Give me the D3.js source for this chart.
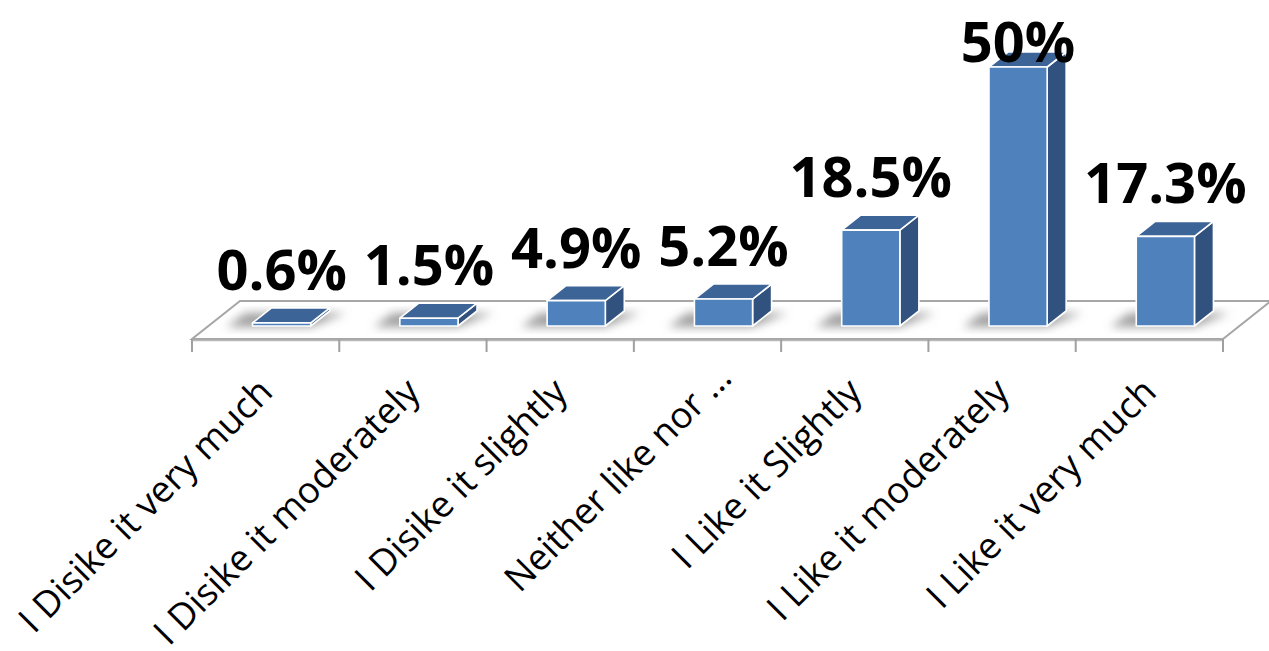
<!DOCTYPE html>
<html>
<head>
<meta charset="utf-8">
<script src="https://cdn.jsdelivr.net/npm/d3@7"></script>
<style>
  html, body { margin: 0; padding: 0; background: #fff; }
  svg { display: block; }
</style>
</head>
<body>
<script>
const categories = [
  "I Disike it very much",
  "I Disike it moderately",
  "I Disike it slightly",
  "Neither like nor \u2026",
  "I Like it Slightly",
  "I Like it moderately",
  "I Like it very much"
];
const values = [0.6, 1.5, 4.9, 5.2, 18.5, 50, 17.3];
const valueLabels = ["0.6%", "1.5%", "4.9%", "5.2%", "18.5%", "50%", "17.3%"];

const W = 1269, H = 651;
const svg = d3.select("body").append("svg").attr("width", W).attr("height", H);

const defs = svg.append("defs");
defs.append("filter").attr("id", "blur").attr("x", "-50%").attr("y", "-50%").attr("width", "200%").attr("height", "200%")
  .append("feGaussianBlur").attr("stdDeviation", 5);

// geometry
const frontY = 339, backY = 301, floorDX = 48;
const baseY = 326;           // bar base line inside floor
const depthDX = 19, depthDY = -15;
const barOffset = 16;        // perspective shift of bar inside band

const x = d3.scaleBand().domain(categories).range([192, 1223]).padding(0);
const y = d3.scaleLinear().domain([0, d3.max(values)]).range([baseY, 67]);
const barW = x.bandwidth() * 0.395;

// floor
const x0 = x.range()[0], x1 = x.range()[1];
svg.append("path")
  .attr("d", `M${x0},${frontY} L${x1},${frontY} L${x1 + floorDX},${backY} L${x0 + floorDX},${backY} Z`)
  .attr("fill", "#fff").attr("stroke", "#a6a6a6").attr("stroke-width", 2);
svg.append("line").attr("x1", x0).attr("x2", x1).attr("y1", frontY + 1.5).attr("y2", frontY + 1.5)
  .attr("stroke", "#b8b8b8").attr("stroke-width", 1.5);

// ticks at band edges
const tickPos = categories.map(c => x(c)).concat([x1]);
svg.append("g").selectAll("line").data(tickPos).join("line")
  .attr("x1", d => d).attr("x2", d => d)
  .attr("y1", frontY).attr("y2", frontY + 13)
  .attr("stroke", "#a0a0a0").attr("stroke-width", 2);

const data = categories.map((c, i) => ({ c, v: values[i], label: valueLabels[i] }));

// shadows
const gShadow = svg.append("g").attr("filter", "url(#blur)");
gShadow.selectAll("path").data(data).join("path")
  .attr("d", d => {
    const bx = x(d.c) + x.bandwidth() / 2 + barOffset - barW / 2;
    const l = bx - 26, r = bx + barW + depthDX + 16;
    return `M${l},${baseY + 1} L${bx + barW},${baseY + 1} L${r},${baseY + depthDY + 2} L${l + depthDX},${baseY + depthDY + 2} Z`;
  })
  .attr("fill", "#808080").attr("opacity", 0.75);

// bars
const gBars = svg.append("g");
data.forEach(d => {
  const bx = x(d.c) + x.bandwidth() / 2 + barOffset - barW / 2;
  const top = y(d.v);
  const g = gBars.append("g").attr("stroke", "#fff").attr("stroke-width", 1.6).attr("stroke-linejoin", "round");
  g.append("path")
    .attr("d", `M${bx + barW},${top} L${bx + barW + depthDX},${top + depthDY} L${bx + barW + depthDX},${baseY + depthDY} L${bx + barW},${baseY} Z`)
    .attr("fill", "#31527f");
  g.append("path")
    .attr("d", `M${bx},${top} L${bx + depthDX},${top + depthDY} L${bx + barW + depthDX},${top + depthDY} L${bx + barW},${top} Z`)
    .attr("fill", "#3c6496");
  g.append("rect").attr("x", bx).attr("y", top).attr("width", barW).attr("height", baseY - top)
    .attr("fill", "#4f81bd");
});

// value labels
svg.append("g").selectAll("text").data(data).join("text")
  .attr("x", d => x(d.c) + x.bandwidth() / 2 + barOffset)
  .attr("y", d => Math.max(y(d.v) - 33, 62))
  .attr("text-anchor", "middle")
  .attr("font-family", "'Open Sans', sans-serif")
  .attr("font-weight", "bold")
  .attr("font-size", 56)
  .attr("fill", "#000")
  .text(d => d.label);

// category labels (truncated labels sit slightly further along the diagonal, as in the source)
svg.append("g").selectAll("text").data(categories).join("text")
  .attr("transform", c => {
    const trunc = c.endsWith("\u2026");
    const tx = x(c) + x.bandwidth() / 2 + 9 + (trunc ? 17 : 0);
    const ty = 394 + (trunc ? -14 : 0);
    return `translate(${tx},${ty}) rotate(-45)`;
  })
  .attr("text-anchor", "end")
  .attr("font-family", "'Open Sans', sans-serif")
  .attr("font-size", 36.5)
  .attr("fill", "#000")
  .text(c => c);
</script>
</body>
</html>
